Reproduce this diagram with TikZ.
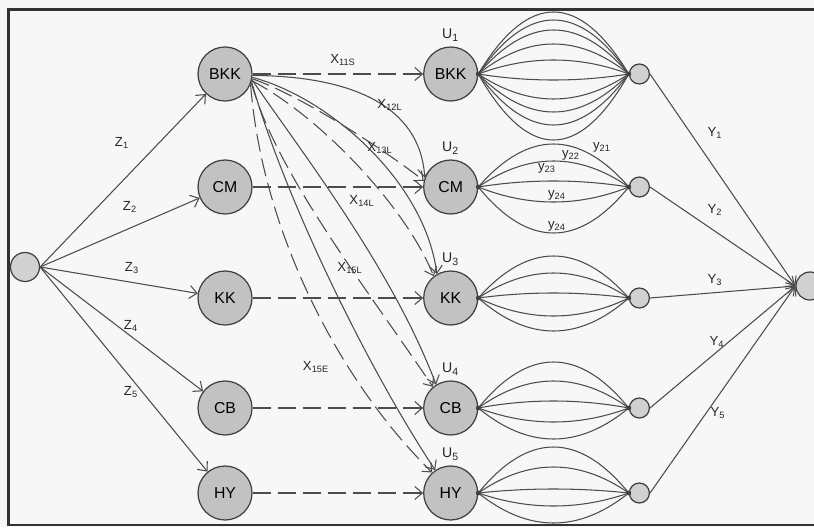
\documentclass[tikz,border=0pt]{standalone}
\usepackage{fontspec}
\setmainfont{Liberation Sans}
\usepackage{tikz}
\usetikzlibrary{arrows.meta,positioning}

\begin{document}
\begin{tikzpicture}[x=0.02cm, y=-0.02cm]
    \tikzstyle{city} = [circle, draw=black!75, fill=black!24, line width=0.7pt, minimum size=1.08cm, inner sep=0pt, font=\fontsize{9}{10}\selectfont]
    \tikzstyle{hub} = [circle, draw=black!75, fill=black!18, line width=0.7pt, minimum size=0.4cm, inner sep=0pt]
    \tikzstyle{lbl} = [font=\fontsize{7.5}{9}\selectfont, text=black!85, inner sep=1pt]
    \tikzstyle{arr} = [line width=0.6pt, draw=black!70, -{Straight Barb[length=1.5mm, width=2.6mm]}]
    \tikzstyle{darr} = [arr, dash pattern=on 3.6mm off 1.4mm]
    \tikzstyle{lens} = [line width=0.6pt, draw=black!70]

    \useasboundingbox (0,0) rectangle (814,527);
    \fill [black!3] (0,0) rectangle (814,527);
    \draw [line width=1.3pt, black!80] (820,9.5) -- (8.5,9.5) -- (8.5,525) -- (820,525);

    % source, supply terminals, demand terminals
    \node [hub, minimum size=0.58cm] (src) at (25,267) {};
    \node [city] (a1) at (225,74) {BKK};
    \node [city] (a2) at (225,187) {CM};
    \node [city] (a3) at (225,298) {KK};
    \node [city] (a4) at (225,408) {CB};
    \node [city] (a5) at (225,493) {HY};

    \node [city, right=3.41cm of a1] (b1) {BKK};
    \node [city, right=3.41cm of a2] (b2) {CM};
    \node [city, right=3.41cm of a3] (b3) {KK};
    \node [city, right=3.41cm of a4] (b4) {CB};
    \node [city, right=3.41cm of a5] (b5) {HY};

    \node [hub, right=3.01cm of b1] (c1) {};
    \node [hub, right=3.01cm of b2] (c2) {};
    \node [hub, right=3.01cm of b3] (c3) {};
    \node [hub, right=3.01cm of b4] (c4) {};
    \node [hub, right=3.01cm of b5] (c5) {};

    \node [hub, minimum size=0.56cm] (snk) at (810,286) {};

    \node [lbl, font=\fontsize{8}{9}\selectfont, above=0.6mm of b1] (u1) {U\textsubscript{1}};
    \node [lbl, font=\fontsize{8}{9}\selectfont, above=0.6mm of b2] (u2) {U\textsubscript{2}};
    \node [lbl, font=\fontsize{8}{9}\selectfont, above=0.6mm of b3] (u3) {U\textsubscript{3}};
    \node [lbl, font=\fontsize{8}{9}\selectfont, above=0.6mm of b4] (u4) {U\textsubscript{4}};
    \node [lbl, font=\fontsize{8}{9}\selectfont, above=0.6mm of b5] (u5) {U\textsubscript{5}};

    % lenses of parallel links
    \foreach \h in {62,54,44,30,14,-6,-25,-38,-51,-66}
        \draw [lens] (b1.east) .. controls +(50,{-4*\h/3}) and +(-50,{-4*\h/3}) .. (c1.west);
    \foreach \h in {43,26,6,-15,-46}
        \draw [lens] (b2.east) .. controls +(50,{-4*\h/3}) and +(-50,{-4*\h/3}) .. (c2.west);
    \foreach \h in {42,25,5,-18,-33}
        \draw [lens] (b3.east) .. controls +(50,{-4*\h/3}) and +(-50,{-4*\h/3}) .. (c3.west);
    \foreach \h in {46,27,7,-14,-31}
        \draw [lens] (b4.east) .. controls +(50,{-4*\h/3}) and +(-50,{-4*\h/3}) .. (c4.west);
    \foreach \h in {46,26,4,-13,-30}
        \draw [lens] (b5.east) .. controls +(50,{-4*\h/3}) and +(-50,{-4*\h/3}) .. (c5.west);
    \foreach \n in {b1,b2,b3,b4,b5}
        \fill [black!75] (\n.east) circle [radius=1.4pt];
    \foreach \n in {c1,c2,c3,c4,c5}
        \fill [black!75] (\n.west) circle [radius=1.4pt];

    % supply links
    \draw [arr] (src.east) -- (a1);
    \draw [arr] (src.east) -- (a2);
    \draw [arr] (src.east) -- (a3);
    \draw [arr] (src.east) -- (a4);
    \draw [arr] (src.east) -- (a5);

    % transport links
    \draw [darr] (a1) -- (b1);
    \draw [darr] (a2) -- (b2);
    \draw [darr] (a3) -- (b3);
    \draw [darr] (a4) -- (b4);
    \draw [darr] (a5) -- (b5);

    \draw [arr] (a1.-3) .. controls (350,76) and (420,105) .. (b2.160);
    \draw [darr] (a1.-10) .. controls (300,95) and (385,150) .. (b2.167);
    \draw [arr] (a1.-7) .. controls (330,98) and (425,182) .. (b3.120);
    \draw [darr] (a1.-14) .. controls (318,115) and (405,205) .. (b3.128);
    \draw [arr] (a1.-12) .. controls (300,150) and (392,268) .. (b4.122);
    \draw [darr] (a1.-18) .. controls (276,172) and (362,282) .. (b4.130);
    \draw [arr] (a1.-16) .. controls (285,200) and (370,372) .. (b5.124);
    \draw [darr] (a1.-22) .. controls (262,232) and (340,382) .. (b5.132);

    % demand links
    \draw [arr] (c1.east) -- (snk.west);
    \draw [arr] (c2.east) -- (snk.west);
    \draw [arr] (c3.east) -- (snk.west);
    \draw [arr] (c4.east) -- (snk.west);
    \draw [arr] (c5.east) -- (snk.west);

    % labels
    \node [lbl] (z1) at (122,143) {Z\textsubscript{1}};
    \node [lbl] (z2) at (130,207) {Z\textsubscript{2}};
    \node [lbl] (z3) at (132,268) {Z\textsubscript{3}};
    \node [lbl] (z4) at (131,326) {Z\textsubscript{4}};
    \node [lbl] (z5) at (131,392) {Z\textsubscript{5}};

    \node [lbl] (x11) at (343,60) {X\textsubscript{11S}};
    \node [lbl] (x12) at (390,105) {X\textsubscript{12L}};
    \node [lbl] (x13) at (380,148) {X\textsubscript{13L}};
    \node [lbl] (x14) at (362,201) {X\textsubscript{14L}};
    \node [lbl] (x15) at (350,268) {X\textsubscript{15L}};
    \node [lbl] (x15e) at (316,367) {X\textsubscript{15E}};

    \node [lbl] (y21) at (602,147) {y\textsubscript{21}};
    \node [lbl] (y22) at (571,155) {y\textsubscript{22}};
    \node [lbl] (y23) at (547,168) {y\textsubscript{23}};
    \node [lbl] (y24) at (557,195) {y\textsubscript{24}};
    \node [lbl] (y24b) at (557,226) {y\textsubscript{24}};

    \node [lbl] (v1) at (715,133) {Y\textsubscript{1}};
    \node [lbl] (v2) at (715,210) {Y\textsubscript{2}};
    \node [lbl] (v3) at (715,280) {Y\textsubscript{3}};
    \node [lbl] (v4) at (717,342) {Y\textsubscript{4}};
    \node [lbl] (v5) at (718,413) {Y\textsubscript{5}};
\end{tikzpicture}
\end{document}
